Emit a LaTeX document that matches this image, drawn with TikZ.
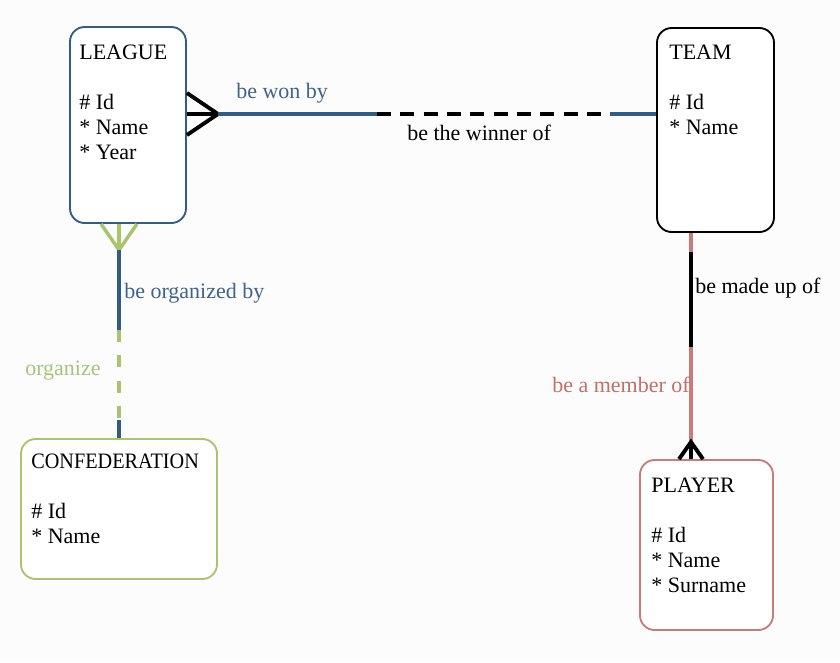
\documentclass[tikz,border=0pt]{standalone}
\usepackage{fontspec}
\setmainfont{Liberation Serif}
\usepackage{xcolor}
\usepackage{tikz}
\usetikzlibrary{positioning,calc}

\definecolor{leagueblue}{HTML}{2F5D88}
\definecolor{bluetext}{HTML}{3F6488}
\definecolor{confgreen}{HTML}{A9C46C}
\definecolor{greentext}{HTML}{A9C27A}
\definecolor{playerred}{HTML}{C97B78}
\definecolor{redtext}{HTML}{C0706A}

\begin{document}
\begin{tikzpicture}[x=0.75pt,y=-0.75pt,
  entity/.style={draw,rounded corners=11pt,line width=1.4pt,fill=white},
  attrs/.style={anchor=base west,inner sep=0pt,align=left,font=\fontsize{16.5}{18.75}\selectfont},
  rel/.style={anchor=base west,inner sep=0pt,font=\fontsize{16.5}{18.75}\selectfont},
  link/.style={line width=2.6pt},
  foot/.style={line width=2.9pt,black}]
\fill[white!99!black] (0,0) rectangle (840,662);
% entities
\node[entity,draw=leagueblue,minimum width=87pt,minimum height=147pt] (league) at (128,125) {};
\node[entity,draw=black,minimum width=87.75pt,minimum height=153pt] (team) at (715.5,130) {};
\node[entity,draw=confgreen,minimum width=147pt,minimum height=105pt] (confed) at (119,509) {};
\node[entity,draw=playerred,minimum width=99.75pt,minimum height=127.5pt] (player) at (706.5,545) {};
% base of a multi-line node = its last line
\node[attrs] (leagueTxt) at ([shift={(10,133)}]league.north west) {LEAGUE\\[18.75pt]\# Id\\{*} Name\\{*} Year};
\node[attrs] (teamTxt) at ([shift={(13,107)}]team.north west) {TEAM\\[18.75pt]\# Id\\{*} Name};
\node[attrs] (confedTxt) at ([shift={(11,105)}]confed.north west) {\scalebox{0.92}[1]{CONFEDERATION}\\[18.75pt]\# Id\\{*} Name};
\node[attrs] (playerTxt) at ([shift={(12,133)}]player.north west) {PLAYER\\[18.75pt]\# Id\\{*} Name\\{*} Surname};
% league -- team
\coordinate (wonFoot) at (218,114);
\coordinate (wonDash) at (377,114);
\coordinate (wonEnd) at (610,114);
\draw[foot] (league.east |- 0,93) -- (wonFoot) -- (league.east |- 0,135);
\draw[foot] (league.east |- wonFoot) -- (wonFoot);
\draw[link,leagueblue] (wonFoot) -- (wonDash);
\draw[link,black,dash pattern=on 10.5pt off 7pt] (wonDash) -- (wonEnd);
\draw[link,leagueblue] (wonEnd) -- (team.west |- wonFoot);
% league -- confederation
\coordinate (orgFoot) at (119,250);
\coordinate (orgDash) at (119,330);
\coordinate (orgEnd) at (119,420);
\draw[link,confgreen] (league.south -| 101,0) -- (orgFoot) -- (league.south -| 137,0);
\draw[link,confgreen] (league.south -| orgFoot) -- (orgFoot);
\draw[link,leagueblue] (orgFoot) -- (orgDash);
\draw[link,confgreen,dash pattern=on 9pt off 10pt] (orgDash) -- (orgEnd);
\draw[link,leagueblue] (orgEnd) -- (confed.north -| orgFoot);
% team -- player
\coordinate (memTop) at (691,252);
\coordinate (memMid) at (691,347);
\coordinate (memFoot) at (691,442);
\draw[link,playerred] (team.south -| memTop) -- (player.north -| memTop);
\draw[link,black] (memTop) -- (memMid);
\draw[foot] (player.north -| 679,0) -- (memFoot) -- (player.north -| 703,0);
\draw[foot] (player.north -| memFoot) -- (memFoot);
% roles
\node[rel,text=bluetext] (wonBy) at (236,98) {be won by};
\node[rel] (winnerOf) at (407,140) {be the winner of};
\node[rel,text=bluetext] (organizedBy) at (124,298) {be organized by};
\node[rel,text=greentext] (organize) at (25,375) {organize};
\node[rel] (madeUpOf) at (695,293) {be made up of};
\node[rel,text=redtext,anchor=base east] (memberOf) at (690,392) {be a member of};
\end{tikzpicture}
\end{document}
